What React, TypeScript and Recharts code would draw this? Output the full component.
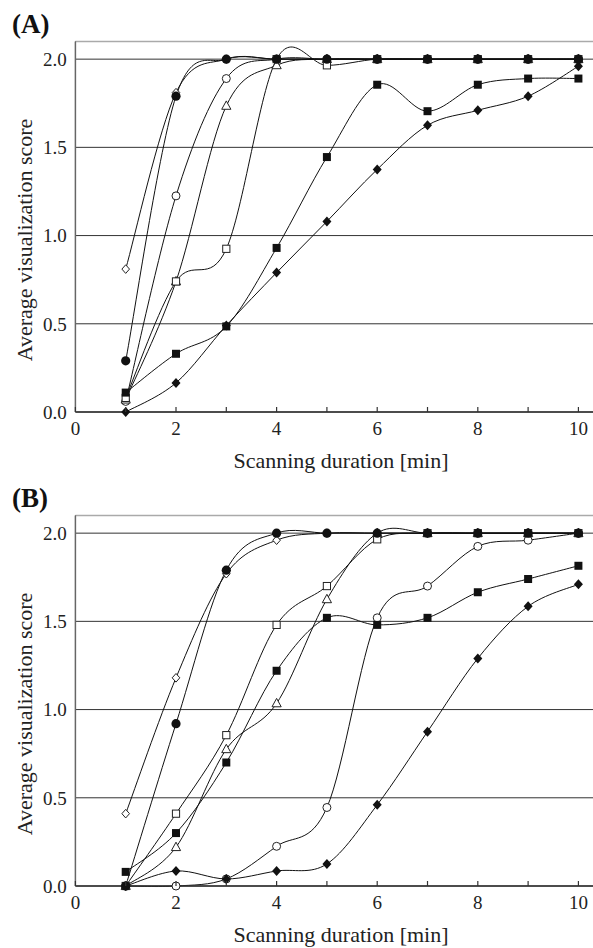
import React from "react"
import {
  LineChart,
  Line,
  XAxis,
  YAxis,
  CartesianGrid,
  ReferenceLine,
} from "recharts"

// scanning duration in minutes
const minutes = [1, 2, 3, 4, 5, 6, 7, 8, 9, 10]
const xTicks = [0, 1, 2, 3, 4, 5, 6, 7, 8, 9, 10]
const yTicks = [0, 0.5, 1, 1.5, 2]

// panel A
const aOpenDiamond = [0.81, 1.81, 2, 2, 2, 2, 2, 2, 2, 2]
const aOpenCircle = [0.06, 1.225, 1.89, 2, 2, 2, 2, 2, 2, 2]
const aOpenTriangle = [0.07, 0.74, 1.735, 1.965, 2, 2, 2, 2, 2, 2]
const aOpenSquare = [0.08, 0.74, 0.925, 2, 1.965, 2, 2, 2, 2, 2]
const aDiamond = [0, 0.165, 0.49, 0.79, 1.08, 1.375, 1.625, 1.71, 1.79, 1.96]
const aSquare = [0.11, 0.33, 0.485, 0.93, 1.445, 1.855, 1.705, 1.855, 1.89, 1.89]
const aCircle = [0.29, 1.79, 2, 2, 2, 2, 2, 2, 2, 2]

// panel B
const bOpenDiamond = [0.41, 1.18, 1.77, 1.96, 2, 2, 2, 2, 2, 2]
const bOpenCircle = [0, 0, 0.04, 0.225, 0.445, 1.52, 1.7, 1.925, 1.96, 2]
const bOpenTriangle = [0, 0.22, 0.775, 1.035, 1.625, 2, 2, 2, 2, 2]
const bOpenSquare = [0, 0.41, 0.855, 1.48, 1.7, 1.965, 2, 2, 2, 2]
const bDiamond = [0, 0.085, 0.04, 0.085, 0.125, 0.46, 0.875, 1.29, 1.585, 1.71]
const bSquare = [0.08, 0.3, 0.7, 1.22, 1.52, 1.48, 1.52, 1.665, 1.74, 1.815]
const bCircle = [0, 0.92, 1.79, 2, 2, 2, 2, 2, 2, 2]

const FONT = "'Liberation Serif', 'Times New Roman', serif"

// drawing order: filled circle last so it sits on top
const seriesKeys = [
  { key: "od", shape: "odiamond" },
  { key: "oc", shape: "ocircle" },
  { key: "ot", shape: "otriangle" },
  { key: "os", shape: "osquare" },
  { key: "d", shape: "diamond" },
  { key: "s", shape: "square" },
  { key: "c", shape: "circle" },
]

const buildRows = (vals: Record<string, number[]>) =>
  minutes.map((m, i) => {
    const row: Record<string, number> = { min: m }
    Object.keys(vals).forEach((k) => (row[k] = vals[k][i]))
    return row
  })

const dataA = buildRows({
  od: aOpenDiamond,
  oc: aOpenCircle,
  ot: aOpenTriangle,
  os: aOpenSquare,
  d: aDiamond,
  s: aSquare,
  c: aCircle,
})
const dataB = buildRows({
  od: bOpenDiamond,
  oc: bOpenCircle,
  ot: bOpenTriangle,
  os: bOpenSquare,
  d: bDiamond,
  s: bSquare,
  c: bCircle,
})

// excel-like smoothed line (catmull-rom through every point)
const smooth = (context: any) => {
  let pts: number[][] = []
  return {
    areaStart() {},
    areaEnd() {},
    lineStart() {
      pts = []
    },
    point(x: number, y: number) {
      pts.push([+x, +y])
    },
    lineEnd() {
      const n = pts.length
      if (!n) return
      context.moveTo(pts[0][0], pts[0][1])
      for (let i = 0; i < n - 1; i++) {
        const p0 = pts[i - 1] || pts[i]
        const p1 = pts[i]
        const p2 = pts[i + 1]
        const p3 = pts[i + 2] || p2
        context.bezierCurveTo(
          p1[0] + (p2[0] - p0[0]) / 6,
          p1[1] + (p2[1] - p0[1]) / 6,
          p2[0] - (p3[0] - p1[0]) / 6,
          p2[1] - (p3[1] - p1[1]) / 6,
          p2[0],
          p2[1]
        )
      }
    },
  }
}

const Marker = ({ cx, cy, shape }: any) => {
  if (cx == null || cy == null) return null
  const ink = "#111"
  switch (shape) {
    case "circle":
      return <circle cx={cx} cy={cy} r={4.6} fill={ink} />
    case "ocircle":
      return <circle cx={cx} cy={cy} r={4} fill="#fff" stroke="#222" strokeWidth={1} />
    case "square":
      return <rect x={cx - 4} y={cy - 4} width={8} height={8} fill={ink} />
    case "osquare":
      return (
        <rect x={cx - 3.6} y={cy - 3.6} width={7.2} height={7.2} fill="#fff" stroke="#222" strokeWidth={1} />
      )
    case "diamond":
      return (
        <polygon
          points={`${cx},${cy - 5} ${cx + 4.5},${cy} ${cx},${cy + 5} ${cx - 4.5},${cy}`}
          fill={ink}
        />
      )
    case "odiamond":
      return (
        <polygon
          points={`${cx},${cy - 4.3} ${cx + 3.8},${cy} ${cx},${cy + 4.3} ${cx - 3.8},${cy}`}
          fill="#fff"
          stroke="#222"
          strokeWidth={1}
        />
      )
    case "otriangle":
      return (
        <polygon
          points={`${cx},${cy - 5} ${cx + 4.6},${cy + 3.4} ${cx - 4.6},${cy + 3.4}`}
          fill="#fff"
          stroke="#222"
          strokeWidth={1}
        />
      )
    default:
      return null
  }
}

const XTick = ({ x, y, payload }: any) => (
  <g>
    <line x1={x} x2={x} y1={y} y2={y - 5} stroke="#333" strokeWidth={1.2} />
    {payload.value % 2 === 0 && (
      <text x={x} y={y + 23} textAnchor="middle" fontSize={19} fontFamily={FONT} fill="#222">
        {payload.value}
      </text>
    )}
  </g>
)

const W = 593
const H = 474

const Panel = ({ data, tag, top }: { data: any[]; tag: string; top: number }) => (
  <div style={{ position: "absolute", left: 0, top, width: W, height: H }}>
    <LineChart width={W} height={H} data={data} margin={{ top: 41.5, right: 0, bottom: 0, left: 0 }}>
      <CartesianGrid vertical={false} stroke="#333" strokeWidth={1} />
      <ReferenceLine y={2.1} stroke="#aaa" strokeWidth={1.6} />
      <XAxis
        type="number"
        dataKey="min"
        domain={[0, 10.29]}
        allowDataOverflow
        ticks={xTicks}
        interval={0}
        tick={<XTick />}
        tickLine={false}
        tickSize={0}
        tickMargin={0}
        height={62}
        stroke="#333"
        strokeWidth={1.5}
      />
      <YAxis
        type="number"
        domain={[0, 2.1]}
        ticks={yTicks}
        interval={0}
        width={75.4}
        tickLine={false}
        tickSize={0}
        tickMargin={8.7}
        tickFormatter={(v: number) => v.toFixed(1)}
        tick={{ fontSize: 19, fontFamily: FONT, fill: "#222" }}
        stroke="#666"
        strokeWidth={1.5}
      />
      {seriesKeys.map((s) => (
        <Line
          key={s.key}
          dataKey={s.key}
          type={smooth as any}
          stroke="#111"
          strokeWidth={1}
          isAnimationActive={false}
          activeDot={false}
          dot={(p: any) => <Marker key={`${s.key}-${p.index}`} cx={p.cx} cy={p.cy} shape={s.shape} />}
        />
      ))}
    </LineChart>
    <svg
      width={W}
      height={H}
      style={{ position: "absolute", left: 0, top: 0, pointerEvents: "none" }}
    >
      <text x={12} y={33} fontSize={27} fontWeight="bold" fontFamily={FONT} fill="#111">
        {tag}
      </text>
      <text
        x={0}
        y={0}
        transform="translate(32,240) rotate(-90)"
        textAnchor="middle"
        fontSize={22}
        fontFamily={FONT}
        fill="#222"
      >
        Average visualization score
      </text>
      <text x={341} y={468} textAnchor="middle" fontSize={22} fontFamily={FONT} fill="#222">
        Scanning duration [min]
      </text>
    </svg>
  </div>
)

export default function App() {
  return (
    <div style={{ position: "absolute", left: 0, top: 0, width: W, height: 948, background: "#fff" }}>
      <Panel data={dataA} tag="(A)" top={0} />
      <Panel data={dataB} tag="(B)" top={474} />
    </div>
  )
}
